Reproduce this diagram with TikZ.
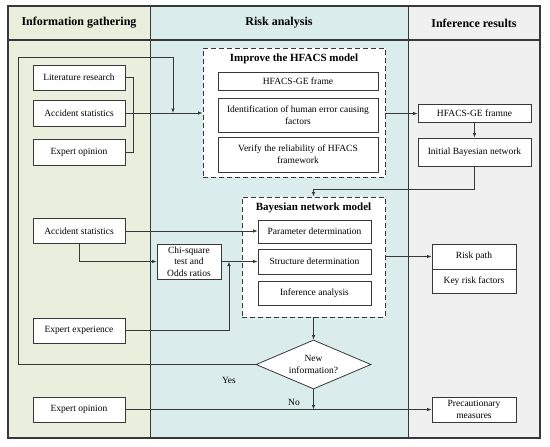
\documentclass[tikz,border=0pt]{standalone}
\usepackage{fontspec}
\setmainfont{Liberation Serif}
\usetikzlibrary{arrows.meta,shapes.geometric}
\definecolor{colA}{HTML}{EAEEDC}
\definecolor{colB}{HTML}{DBECEC}
\definecolor{colC}{HTML}{F0F0F0}
\definecolor{ln}{HTML}{383838}
\begin{document}
\begin{tikzpicture}[x=1pt,y=-1pt,
  box/.style={draw=ln,line width=0.8pt,fill=white,inner sep=1pt,align=center,
    font=\fontsize{9.5}{12}\selectfont},
  dbox/.style={draw=ln,line width=0.9pt,fill=white,dash pattern=on 5pt off 3pt},
  arr/.style={draw=ln,line width=0.8pt,-{Latex[length=4.5pt,width=3.5pt]}},
  ln/.style={draw=ln,line width=0.8pt},
  head/.style={font=\fontsize{12}{14}\selectfont\bfseries},
  ttl/.style={font=\fontsize{11}{13}\selectfont\bfseries},
  lab/.style={font=\fontsize{9.5}{12}\selectfont}]
\useasboundingbox (0,0) rectangle (550,447);
% columns
\fill[colA] (8,6) rectangle (150,438);
\fill[colB] (150,6) rectangle (408,438);
\fill[colC] (408,6) rectangle (540,438);
\draw[ln] (150,6) -- (150,438);
\draw[ln] (408,6) -- (408,438);
\draw[draw=ln,line width=1.4pt] (8,40) -- (540,40);
\draw[draw=ln,line width=1.4pt] (8,6) rectangle (540,438);
\node[head] (h1) at (79,23) {Information gathering};
\node[head] (h2) at (279,23) {Risk analysis};
\node[head] (h3) at (474,23) {Inference results};
% dashed containers
\node[dbox,minimum width=182pt,minimum height=129pt] (hf) at (294,112.5) {};
\node[ttl] (hft) at (294,59) {Improve the HFACS model};
\node[dbox,minimum width=143pt,minimum height=120pt] (bn) at (313.5,257) {};
\node[ttl] (bnt) at (313.5,208) {Bayesian network model};
% left boxes
\node[box,minimum width=92pt,minimum height=25pt] (lit) at (79,77.5) {Literature research};
\node[box,minimum width=92pt,minimum height=26pt] (acc1) at (79,113) {Accident statistics};
\node[box,minimum width=92pt,minimum height=26pt] (exp1) at (79,152) {Expert opinion};
\node[box,minimum width=92pt,minimum height=25pt] (acc2) at (79,231) {Accident statistics};
\node[box,minimum width=92pt,minimum height=25pt] (expx) at (79,330.5) {Expert experience};
\node[box,minimum width=92pt,minimum height=25pt] (exp2) at (79,409.5) {Expert opinion};
% HFACS boxes
\node[box,minimum width=160pt,minimum height=18pt] (ge) at (298,81) {HFACS-GE frame};
\node[box,minimum width=160pt,minimum height=34pt] (idf) at (298,115) {Identification of human error causing\\factors};
\node[box,minimum width=160pt,minimum height=35pt] (ver) at (298,154.5) {Verify the reliability of HFACS\\framework};
% Bayesian boxes
\node[box,minimum width=113pt,minimum height=23pt] (par) at (314.5,231.5) {Parameter determination};
\node[box,minimum width=113pt,minimum height=25pt] (str) at (314.5,261.5) {Structure determination};
\node[box,minimum width=113pt,minimum height=24pt] (inf) at (314.5,293) {Inference analysis};
\node[box,minimum width=64pt,minimum height=35pt,font=\fontsize{9.5}{11.5}\selectfont] (chi) at (189,261.5) {Chi-square\\test and\\Odds ratios};
% right boxes
\node[box,minimum width=113pt,minimum height=18pt] (frm) at (474.5,113.5) {HFACS-GE framne};
\node[box,minimum width=113pt,minimum height=28pt] (ini) at (474.5,152) {Initial Bayesian network};
\node[box,minimum width=84pt,minimum height=25pt] (rp) at (474,256.5) {Risk path};
\node[box,minimum width=84pt,minimum height=24pt] (kr) at (474,281) {Key risk factors};
\node[box,minimum width=84pt,minimum height=25pt] (pre) at (474,409.5) {Precautionary\\measures};
% diamond
\node[draw=ln,line width=0.8pt,fill=white,diamond,aspect=2.35,inner sep=0pt,
  minimum width=115pt,minimum height=49pt,align=center,
  font=\fontsize{9.5}{12}\selectfont] (dia) at (313.5,364.5) {New\\information?};
% coordinates
\coordinate (fb1) at (18,57);
\coordinate (fb2) at (173,57);
\coordinate (jn) at (229,261.5);
% connectors
\draw[ln] (lit.east) -- ++(8,0) |- (exp1.east);
\draw[arr] (acc1.east) -- (acc1.east -| hf.west);
\draw[arr] (dia.west) -| (fb1) -- (fb2) -- (fb2 |- acc1.east);
\draw[arr] (hf.east |- frm.west) -- (frm.west);
\draw[arr] (frm) -- (ini);
\draw[arr] (ini.south) -- ++(0,23) -| (bn.north);
\draw[arr] (acc2.east) -- (acc2.east -| par.west);
\draw[arr] (acc2.south) |- (chi.west);
\draw[arr] (chi.east) -- (chi.east -| str.west);
\draw[arr] (expx.east) -| (jn);
\draw[arr] (bn.east |- rp.west) -- (rp.west);
\draw[arr] (bn.south) -- (dia.north);
\draw[arr] (exp2.east) -- (pre.west);
\draw[arr] (dia.south) -- (dia.south |- pre.west);
\node[lab] (yes) at (229,380) {Yes};
\node[lab] (no) at (294,402) {No};
\end{tikzpicture}
\end{document}
